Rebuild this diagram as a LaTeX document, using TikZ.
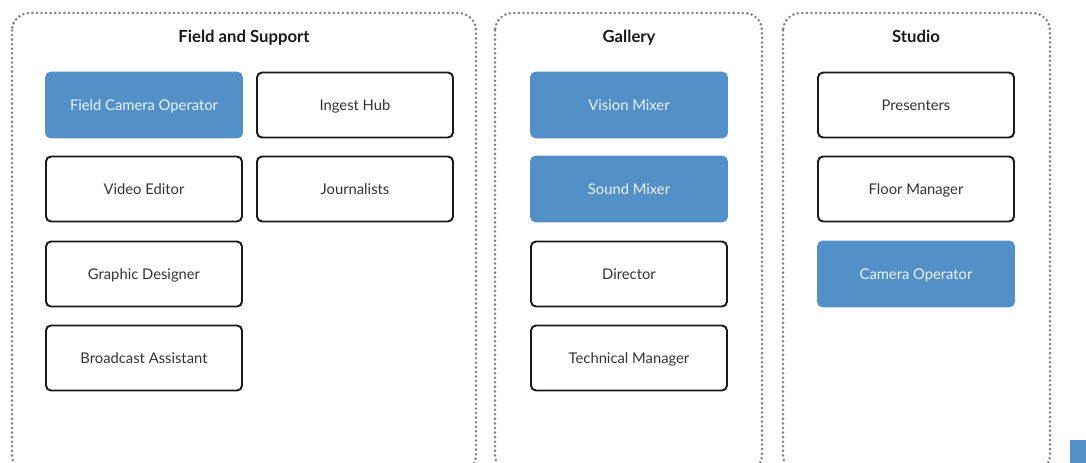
\documentclass[tikz,border=0pt]{standalone}
\usepackage{fontspec}
\setmainfont{Lato}
\usetikzlibrary{positioning}

\definecolor{roleblue}{HTML}{5490C8}
\definecolor{roletext}{HTML}{333333}
\definecolor{dotgray}{HTML}{7F7F7F}

\tikzset{
	area/.style={draw=dotgray, line width=1.6pt, line cap=round,
		dash pattern=on 0pt off 2.6pt, rounded corners=0.35cm},
	areatitle/.style={font=\fontsize{9.5}{11}\selectfont\bfseries, text=black!90,
		text height=1.7ex, text depth=0.5ex},
	role/.style={draw=black!90, line width=1.1pt, rounded corners=0.1cm,
		minimum width=3.92cm, minimum height=1.3cm, text=roletext,
		font=\fontsize{8.4}{10}\selectfont, text height=1.6ex, text depth=0.3ex},
	keyrole/.style={role, draw=roleblue, fill=roleblue, text=white!88!roleblue}
}

\begin{document}
\begin{tikzpicture}
	\useasboundingbox (0, 0) rectangle (21.72, -9.24);
	\clip (0, 0) rectangle (21.72, -9.24);

	% the three areas
	\draw[area] (0.24, -0.26) rectangle (9.52, -9.45);
	\draw[area] (9.90, -0.26) rectangle (15.24, -9.45);
	\draw[area] (15.66, -0.26) rectangle (21.00, -9.45);
	\node[areatitle] (field) at (4.88, -0.74) {Field and Support};
	\node[areatitle] (gallery) at (12.58, -0.74) {Gallery};
	\node[areatitle] (studio) at (18.32, -0.74) {Studio};

	% field and support
	\node[keyrole] (fieldcam) at (2.88, -2.10) {Field Camera Operator};
	\node[role] (ingest) at (7.10, -2.10) {Ingest Hub};
	\node[role] (editor) at (2.88, -3.78) {Video Editor};
	\node[role] (journalists) at (7.10, -3.78) {Journalists};
	\node[role] (graphics) at (2.88, -5.48) {Graphic Designer};
	\node[role] (assistant) at (2.88, -7.16) {Broadcast Assistant};

	% gallery
	\node[keyrole] (vision) at (12.58, -2.10) {Vision Mixer};
	\node[keyrole] (sound) at (12.58, -3.78) {Sound Mixer};
	\node[role] (director) at (12.58, -5.48) {Director};
	\node[role] (techman) at (12.58, -7.16) {Technical Manager};

	% studio
	\node[role] (presenters) at (18.32, -2.10) {Presenters};
	\node[role] (floor) at (18.32, -3.78) {Floor Manager};
	\node[keyrole] (studiocam) at (18.32, -5.48) {Camera Operator};

	\fill[roleblue] (21.40, -8.80) rectangle (21.95, -9.50);
\end{tikzpicture}
\end{document}
